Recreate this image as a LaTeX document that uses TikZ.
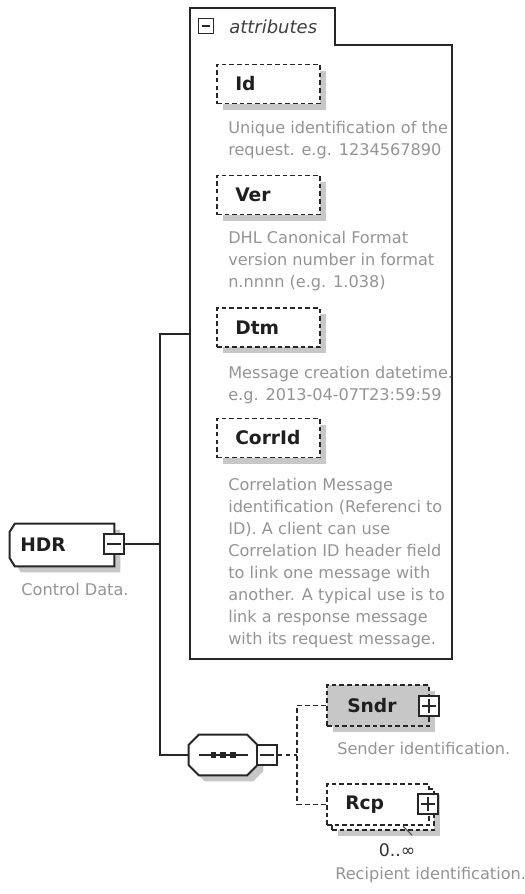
\documentclass[tikz,border=0pt]{standalone}
\usepackage{fontspec}
\setmainfont{DejaVu Sans}
\usetikzlibrary{shadows}
\begin{document}
\begin{tikzpicture}[x=0.75pt, y=-0.75pt,
  boxshadow/.style={drop shadow={shadow xshift=4.5pt, shadow yshift=-4.5pt, fill=black!22, opacity=1}},
  conn/.style={line width=1.5pt, draw=black!85},
  dconn/.style={line width=1.2pt, draw=black!85, dash pattern=on 3.6pt off 2.4pt},
  frame/.style={line width=1.5pt, draw=black!85},
  holder/.style={inner sep=0, draw=none},
  dbox/.style={draw=black!85, line width=1.2pt, dash pattern=on 3.4pt off 2.3pt, fill=white,
    minimum width=77.25pt, minimum height=29.25pt, inner sep=0},
  attrbox/.style={dbox, boxshadow},
  lbl/.style={font=\fontsize{14}{16}\selectfont\bfseries, text=black!88, inner sep=0, anchor=west},
  desc/.style={font=\fontsize{12.1}{16.5}\selectfont, text=black!42, align=left, inner sep=0, anchor=north west},
  pmbox/.style={draw=black!85, line width=1pt, fill=white, minimum size=15pt, inner sep=0},
  minusbox/.style={pmbox, path picture={\draw[line width=1pt, black!85]
     ([xshift=2.5pt]path picture bounding box.west) -- ([xshift=-2.5pt]path picture bounding box.east);}},
  plusbox/.style={pmbox, path picture={\draw[line width=1pt, black!85]
     ([xshift=2.5pt]path picture bounding box.west) -- ([xshift=-2.5pt]path picture bounding box.east)
     ([yshift=-2.5pt]path picture bounding box.north) -- ([yshift=2.5pt]path picture bounding box.south);}}
]
\useasboundingbox (0,0) rectangle (525,894);

% ---------- HDR ----------
\node[holder, minimum width=78pt, minimum height=31.5pt] (hdr) at (62,545) {};
\path[frame, fill=white, boxshadow]
  ([xshift=3.75pt]hdr.north west) -- (hdr.north east) -- (hdr.south east)
  -- ([xshift=3.75pt]hdr.south west) -- ([yshift=6pt]hdr.south west)
  -- ([yshift=-6pt]hdr.north west) -- cycle;
\node[lbl] (hdrl) at (20,545) {HDR};
\node[minusbox] (hdrm) at (114,544) {};
\node[font=\fontsize{12.1}{14}\selectfont, text=black!42, inner sep=0] (hdrd) at (75,589) {Control Data.};

% ---------- attributes frame ----------
\node[holder, minimum width=196.5pt, minimum height=488.25pt] (attr) at (321,333.5) {};
\draw[frame] (attr.south west) -- (attr.north west) -- ([xshift=108.75pt]attr.north west)
  -- ([xshift=108.75pt, yshift=-27.75pt]attr.north west) -- ([yshift=-27.75pt]attr.north east)
  -- (attr.south east) -- cycle;
\node[minusbox, minimum size=11pt] (attrm) at (206,26) {};
\node[font=\fontsize{13.5}{15}\selectfont\itshape, text=black!75, inner sep=0, anchor=west] (attrt) at (229,27) {attributes};

% Id
\node[attrbox] (id) at (268.5,84) {};
\node[lbl] (idl) at (235,84) {Id};
\node[desc] (idd) at (228,121) {Unique identification of the\\request. e.g. 1234567890};
% Ver
\node[attrbox] (ver) at (268.5,195) {};
\node[lbl] (verl) at (235,195) {Ver};
\node[desc] (verd) at (228,231) {DHL Canonical Format\\version number in format\\n.nnnn (e.g. 1.038)};
% Dtm
\node[attrbox] (dtm) at (268.5,327.5) {};
\node[lbl] (dtml) at (235,327.5) {Dtm};
\node[desc] (dtmd) at (228,366) {Message creation datetime.\\e.g. 2013-04-07T23:59:59};
% CorrId
\node[attrbox] (corr) at (268.5,438) {};
\node[lbl] (corrl) at (235,438) {CorrId};
\node[desc] (corrd) at (228,478) {Correlation Message\\identification (Referenci to\\ID). A client can use\\Correlation ID header field\\to link one message with\\another. A typical use is to\\link a response message\\with its request message.};

% ---------- sequence ----------
\node[holder, minimum width=51pt, minimum height=30pt] (seq) at (223,755) {};
\path[frame, fill=white, boxshadow]
  ([xshift=7.5pt]seq.north west) -- ([xshift=-7.5pt]seq.north east) -- ([yshift=-7.5pt]seq.north east)
  -- ([yshift=7.5pt]seq.south east) -- ([xshift=-7.5pt]seq.south east) -- ([xshift=7.5pt]seq.south west)
  -- ([yshift=7.5pt]seq.south west) -- ([yshift=-7.5pt]seq.north west) -- cycle;
\draw[line width=1.2pt, black!85] (199,755) -- (248,755);
\foreach \sx in {213.3,222.7,232.7} \fill[black!85] (\sx-2.8,752.2) rectangle (\sx+2.8,757.8);
\node[minusbox] (seqm) at (267,755) {};

% ---------- connectors ----------
\coordinate (bus) at (160,544);
\draw[conn] (hdrm.east) -- (bus);
\draw[conn] (attr.west) -- (bus |- attr.west) -- (bus |- seq.west) -- (seq.west);

% ---------- Sndr ----------
\node[dbox, fill=black!22, boxshadow, minimum width=76.5pt, minimum height=30.75pt] (sndr) at (378,705.5) {};
\node[lbl] (sndrl) at (347,705.5) {Sndr};
\node[plusbox] (sndrp) at (429,706) {};
\node[font=\fontsize{12.1}{14}\selectfont, text=black!42, inner sep=0, anchor=west] (sndrd) at (337,748) {Sender identification.};

% ---------- Rcp ----------
\node[attrbox, minimum width=76.5pt, minimum height=30.75pt] (rcpb) at (383,809.5) {};
\node[dbox, minimum width=76.5pt, minimum height=30.75pt] (rcp) at (378,804.5) {};
\node[lbl] (rcpl) at (345,804.5) {Rcp};
\node[plusbox] (rcpp) at (428,804) {};
\draw[line width=0.8pt, black!70] (403,826) -- (412,835);
\node[font=\fontsize{13}{15}\selectfont, text=black!80, inner sep=0] (rcpm) at (397,850) {0..∞};
\node[font=\fontsize{12.1}{14}\selectfont, text=black!42, inner sep=0, anchor=west] (rcpd) at (335,875) {Recipient identification.};

\coordinate (br) at (297,755);
\draw[dconn] (seqm.east) -- (br);
\draw[dconn] (sndr.west) -- (br |- sndr.west) -- (br |- rcp.west) -- (rcp.west);
\end{tikzpicture}
\end{document}
